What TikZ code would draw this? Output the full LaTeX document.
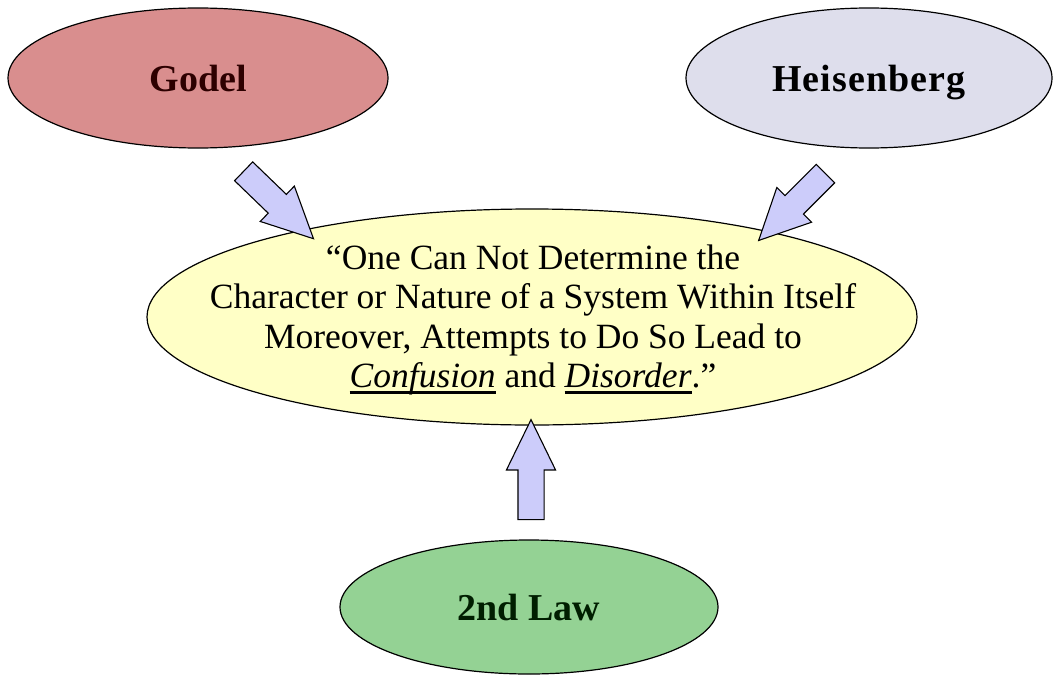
\documentclass[tikz,border=0pt]{standalone}
\usepackage{fontspec}
\setmainfont{Liberation Serif}
\usetikzlibrary{shapes.geometric,shapes.arrows,calc}

\definecolor{godelred}{RGB}{217,142,142}
\definecolor{heisengray}{RGB}{222,222,236}
\definecolor{quoteyellow}{RGB}{255,255,198}
\definecolor{lawgreen}{RGB}{148,210,148}
\definecolor{arrowlilac}{RGB}{204,204,250}

% fat block arrow from #1 to #2
\newcommand\fatarrow[2]{%
	\path let \p1=($(#2)-(#1)$), \n1={atan2(\y1,\x1)}, \n2={veclen(\x1,\y1)} in
		node[fatarrow, minimum height=\n2, rotate=\n1] at ($(#1)!0.5!(#2)$) {};}
% heavy underline
\newcommand\ulword[1]{\setbox0\hbox{#1}\leavevmode\rlap{\rule[-6pt]{\wd0}{2.6pt}}\box0\relax}

\begin{document}
\begin{tikzpicture}[x=1pt,y=-1pt,
	bubble/.style={ellipse, draw=black, line width=1.2pt, inner sep=0pt},
	label/.style={font=\fontsize{38}{40}\selectfont\bfseries, text depth=0pt},
	fatarrow/.style={single arrow, draw=black, fill=arrowlilac, line width=1.1pt,
		inner xsep=0pt, inner ysep=12.5pt, minimum width=0pt,
		single arrow head extend=11.5pt, single arrow tip angle=52}]
	\useasboundingbox (0,0) rectangle (1056,677);
	
	% the three sources
	\node[bubble, fill=godelred, minimum width=380pt, minimum height=140pt] (godel) at (198,78) {};
	\node[label, text={rgb,255:red,45;green,0;blue,0}] at (godel) {Godel};
	\node[bubble, fill=heisengray, minimum width=366pt, minimum height=140pt] (heis) at (869,78) {};
	\node[label] at (heis) {\addfontfeature{LetterSpace=3}Heisenberg};
	\node[bubble, fill=lawgreen, minimum width=378pt, minimum height=134pt] (law) at (529,607) {};
	\node[label, text={rgb,255:red,0;green,30;blue,0}] at (law) {2nd Law};
	
	% the quote
	\node[bubble, fill=quoteyellow, minimum width=770pt, minimum height=216pt] (quote) at (532,317) {};
	\node[align=center, font=\fontsize{35.5}{39.5}\selectfont] (quotetext) at (533,320)
		{“One Can Not Determine the\\
		 Character or Nature of a System Within Itself\\
		 Moreover, Attempts to Do So Lead to\\
		 \ulword{\textit{Confusion}} and \ulword{\textit{Disorder}}.”};
	
	% arrows
	\coordinate (godeltail) at (234,162);
	\coordinate (heistail) at (835,164);
	\coordinate (lawtail) at (531,533);
	\coordinate (lawtip) at (531,433);
	\fatarrow{godeltail}{quote.159}
	\fatarrow{heistail}{quote.20.5}
	\fatarrow{lawtail}{lawtip}
\end{tikzpicture}
\end{document}
